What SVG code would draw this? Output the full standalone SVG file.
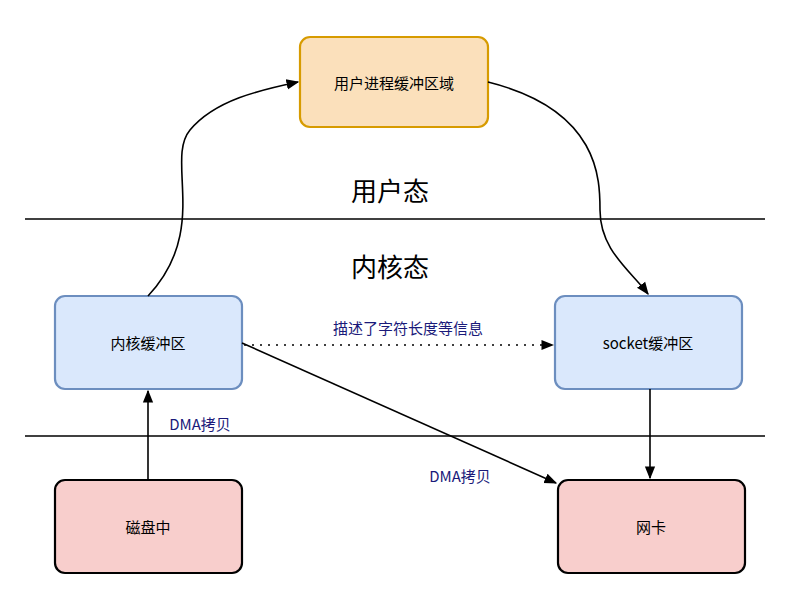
<svg xmlns="http://www.w3.org/2000/svg" width="800" height="606" viewBox="0 0 800 606">
<style>
text{font-family:"Noto Sans CJK SC","Liberation Sans",sans-serif;text-anchor:middle;dominant-baseline:central}
.n{font-size:15px;fill:#000}
.l{font-size:15px;fill:#1a1a7a}
.big{font-size:26px;fill:#000}
.c{fill:none;stroke:#000;stroke-width:1.6}
</style>
<defs>
<marker id="a" viewBox="0 0 10 10" refX="9" refY="5" markerWidth="8" markerHeight="8" orient="auto"><path d="M0,1 L10,5 L0,9 Z" fill="#000"/></marker>
</defs>
<rect width="800" height="606" fill="#fff"/>
<line x1="25" y1="219" x2="765" y2="219" stroke="#000" stroke-width="1.6"/>
<line x1="25" y1="436" x2="765" y2="436" stroke="#000" stroke-width="1.6"/>
<text class="big" x="390" y="189">用户态</text>
<text class="big" x="390" y="265">内核态</text>
<g id="user"><rect x="300" y="37" width="188" height="90" rx="10" fill="#fbe0bb" stroke="#d79b00" stroke-width="2.2"/><text class="n" x="394" y="82">用户进程缓冲区域</text></g>
<g id="kernel"><rect x="55" y="296" width="187" height="93" rx="10" fill="#dae8fc" stroke="#6c8ebf" stroke-width="2.2"/><text class="n" x="148" y="342">内核缓冲区</text></g>
<g id="socket"><rect x="555" y="296" width="187" height="93" rx="10" fill="#dae8fc" stroke="#6c8ebf" stroke-width="2.2"/><text class="n" x="648" y="342">socket缓冲区</text></g>
<g id="disk"><rect x="55" y="480" width="187" height="93" rx="10" fill="#f8cecc" stroke="#000" stroke-width="2.2"/><text class="n" x="148" y="526">磁盘中</text></g>
<g id="nic"><rect x="558" y="480" width="187" height="93" rx="10" fill="#f8cecc" stroke="#000" stroke-width="2.2"/><text class="n" x="651" y="526">网卡</text></g>
<g id="connectors">
<path class="c" d="M148,296 C210,230 165,160 190,130 C215,100 260,90 298,82" marker-end="url(#a)"/>
<path class="c" d="M488,82 C600,110 600,180 600,210 C600,250 630,270 648,294" marker-end="url(#a)"/>
<path class="c" d="M244,345 L553,345" stroke-dasharray="2,6" marker-end="url(#a)"/>
<path class="c" d="M242,343 L556,483" marker-end="url(#a)"/>
<path class="c" d="M148,480 L148,391" marker-end="url(#a)"/>
<path class="c" d="M650,389 L650,478" marker-end="url(#a)"/>
<text class="l" x="408" y="327">描述了字符长度等信息</text>
<text class="l" x="200" y="423">DMA拷贝</text>
<text class="l" x="460" y="475">DMA拷贝</text>
</g>
</svg>
